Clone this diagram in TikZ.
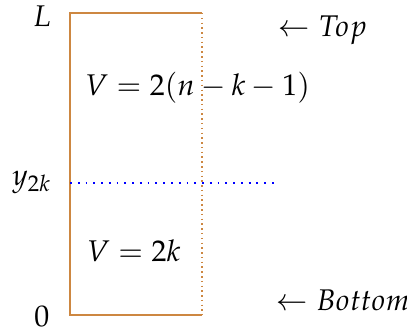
\documentclass[tikz,border=0pt]{standalone}
\usepackage{mathpazo}
\usepackage{xcolor}
\usepackage{tikz}
\usetikzlibrary{positioning, calc}

\definecolor{wallcol}{RGB}{205,135,65}

\begin{document}
\begin{tikzpicture}[
  wall/.style={draw=wallcol, line width=0.8pt},
  openwall/.style={draw=wallcol, line width=0.6pt, dash pattern=on 0.5pt off 1.1pt},
  level/.style={draw=blue, dotted, line width=0.6pt},
  lbl/.style={inner sep=0pt, font=\normalsize}
]
  \useasboundingbox (-0.823,-0.212) rectangle (3.963,3.705);

  \coordinate (bl) at (0,0);
  \coordinate (br) at (1.553,0);
  \coordinate (tl) at (0,3.552);
  \coordinate (tr) at (1.553,3.552);
  \coordinate (mid) at (0,1.553);
  \coordinate (midend) at (2.40,1.553);

  \draw[wall] (br) -- (bl) -- (tl) -- (tr);
  \draw[openwall] (tr) -- (br);
  \draw[level] (mid) -- (midend);

  \node[lbl] (ltop) at (-0.33,3.51) {$L$};
  \node[lbl] (lzero) at (-0.33,-0.02) {$0$};
  \node[lbl, anchor=east] (lmid) at (-0.21,1.56) {$y_{2k}$};

  \node[lbl] (vtop) at (1.50,2.67) {$V = 2(n-k-1)$};
  \node[lbl] (vbot) at (0.75,0.753) {$V = 2k$};

  \node[lbl] (top) at (2.97,3.35) {$\leftarrow Top$};
  \node[lbl] (bottom) at (3.21,0.176) {$\leftarrow Bottom$};
\end{tikzpicture}
\end{document}
